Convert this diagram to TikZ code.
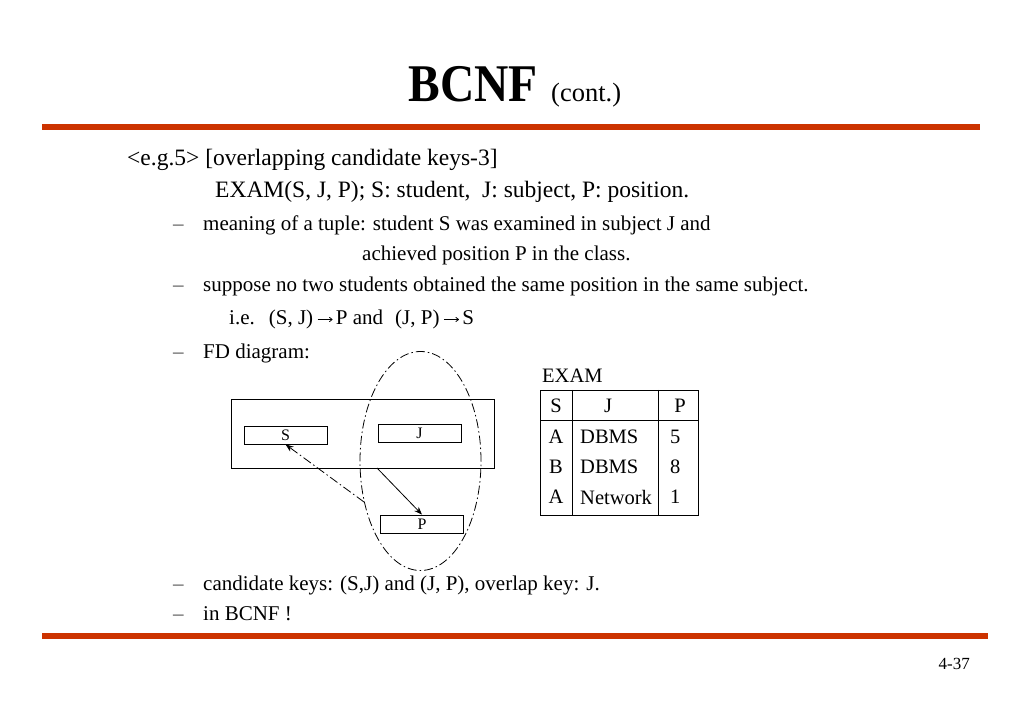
\documentclass[tikz,border=0pt]{standalone}
\usepackage{fontspec}
\usepackage{graphicx}
\setmainfont{Liberation Serif}
\usetikzlibrary{shapes.geometric,arrows.meta}
\definecolor{barred}{RGB}{204,51,0}
\newcommand{\myarr}{\hspace{4pt}\tikz[baseline=0pt]{\draw[line width=0.8pt,-{To[length=3.5pt,width=5pt]}] (0pt,5.5pt) -- (15pt,5.5pt);}\hspace{3pt}}
\tikzset{
  txt/.style={anchor=base west,inner sep=0pt,font=\fontsize{21}{24}\selectfont},
  dsh/.style={anchor=base west,inner sep=0pt,text=black!70,font=\fontsize{21}{24}\selectfont},
  bigtxt/.style={anchor=base west,inner sep=0pt,font=\fontsize{23.5}{27}\selectfont},
  attr/.style={draw,line width=0.8pt,minimum width=83pt,minimum height=18pt,inner sep=0pt,font=\fontsize{16}{18}\selectfont},
  cell/.style={inner sep=0pt,font=\fontsize{20.5}{23}\selectfont},
  dd/.style={line width=0.8pt,dash pattern=on 9pt off 3pt on 1.5pt off 3pt},
  bar/.style={fill=barred,draw=none}
}
\begin{document}
\begin{tikzpicture}[x=1pt,y=-1pt]
\useasboundingbox (0,0) rectangle (1023,708);
% title
\node[anchor=base east,inner sep=0pt,font=\fontsize{50}{56}\selectfont\bfseries] (title) at (538,102) {\scalebox{0.95}[1.06]{BCNF}};
\node[anchor=base west,inner sep=0pt,font=\fontsize{26.5}{30}\selectfont] (cont) at (551,102) {(cont.)};
\fill[bar] (42,124.5) rectangle (980,130) coordinate (topbar);
\fill[bar] (42,633) rectangle (988,638.5) coordinate (botbar);
% text
\node[bigtxt] (l1) at (127,166) {<e.g.5> [overlapping candidate keys-3]};
\node[bigtxt] (l2) at (215,198) {EXAM(S, J, P); S: student,\ \ J: subject, P: position.};
\node[dsh] (d1) at (173,231) {–};
\node[txt] (l3) at (203,231) {meaning of a tuple: student S was examined in subject J and};
\node[txt] (l4) at (362,261) {achieved position P in the class.};
\node[dsh] (d2) at (173,292) {–};
\node[txt] (l5) at (203,292) {suppose no two students obtained the same position in the same subject.};
\node[txt] (l6) at (229,325) {i.e.\hspace{14pt}(S, J)\myarr{}P and\hspace{12pt}(J, P)\myarr{}S};
\node[dsh] (d3) at (173,359) {–};
\node[txt] (l7) at (203,359) {FD diagram:};
\node[dsh] (d4) at (173,590) {–};
\node[txt] (l8) at (203,590) {candidate keys: (S,J) and (J, P), overlap key: J.};
\node[dsh] (d5) at (173,620) {–};
\node[txt] (l9) at (203,620) {in BCNF !};
\node[anchor=east,inner sep=0pt,font=\fontsize{17}{20}\selectfont] (pg) at (970,664) {4-37};
% FD diagram
\node[draw,line width=0.8pt,minimum width=263pt,minimum height=69pt,inner sep=0pt] (outer) at (362.5,433.5) {};
\node[attr] (S) at (285.5,435) {S};
\node[attr] (J) at (419.5,433) {J};
\node[attr] (P) at (422,524) {P};
\node[draw,dd,ellipse,minimum width=121pt,minimum height=219pt,inner sep=0pt] (E) at (420.5,461) {};
\coordinate (jpout) at (377,468);
\coordinate (ein) at (364,502);
\draw[line width=0.8pt,-{Stealth[length=8pt,width=6pt]}] (jpout) -- (P.north);
\draw[dd,-{Stealth[length=8pt,width=6pt]}] (ein) -- (S.south);
% table
\node[anchor=west,inner sep=0pt,font=\fontsize{20.5}{23}\selectfont] (ex) at (542,376) {EXAM};
\draw[line width=0.8pt] (540,390) rectangle (698,515) coordinate (tb);
\draw[line width=0.8pt] (540,420) -- (698,420);
\draw[line width=0.8pt] (572,390) -- (572,515);
\draw[line width=0.8pt] (658,390) -- (658,515);
\node[cell] (h1) at (556,406) {S};
\node[cell] (h2) at (608,406) {J};
\node[cell] (h3) at (680,406) {P};
\node[cell] (a1) at (556,437) {A};
\node[cell,anchor=west] (a2) at (580,437) {DBMS};
\node[cell,anchor=west] (a3) at (670,437) {5};
\node[cell] (b1) at (556,467) {B};
\node[cell,anchor=west] (b2) at (580,467) {DBMS};
\node[cell,anchor=west] (b3) at (670,467) {8};
\node[cell] (c1) at (556,497) {A};
\node[cell,anchor=west] (c2) at (580,497) {Network};
\node[cell,anchor=west] (c3) at (670,497) {1};
\end{tikzpicture}
\end{document}
